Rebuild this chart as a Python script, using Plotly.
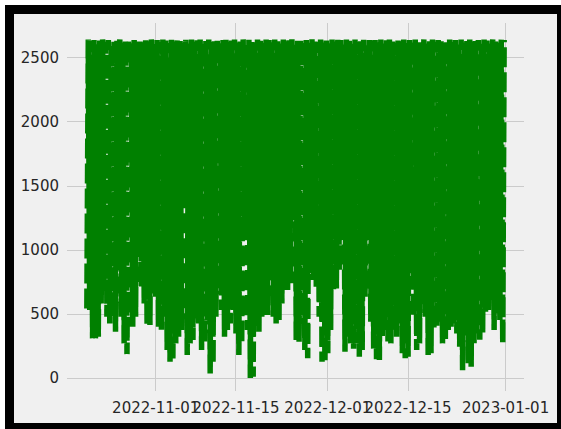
import pandas as pd
import plotly.graph_objects as go

# ---- data ----
start_time = "2022-10-20 00:00"
step = "6h"

low_values = [
    544, 531, 310, 310, 323, 583, 713, 479, 427, 479,
    362, 844, 479, 271, 187, 401, 401, 479, 948, 713,
    583, 414, 414, 661, 635, 401, 375, 479, 219, 128,
    141, 271, 323, 375, 1417, 180, 271, 297, 466, 427,
    219, 271, 453, 36, 115, 479, 687, 531, 323, 375,
    427, 531, 349, 180, 271, 1078, 375, 0, 10, 427,
    362, 479, 492, 492, 810, 479, 427, 453, 583, 687,
    687, 740, 1234, 297, 284, 479, 219, 154, 818, 766,
    713, 479, 128, 128, 193, 375, 687, 700, 844, 1078,
    206, 323, 271, 219, 271, 167, 219, 635, 1078, 440,
    230, 141, 141, 323, 375, 271, 271, 375, 323, 427,
    193, 154, 167, 818, 479, 219, 271, 661, 479, 180,
    193, 375, 401, 440, 271, 297, 375, 401, 427, 349,
    245, 62, 375, 115, 88, 271, 349, 300, 349, 518,
    531, 609, 375, 505, 453, 271,
]

high_values = [
    2645, 2632, 2641, 2618, 2637, 2645, 2626, 2640, 2611, 2643,
    2635, 2645, 2620, 2631, 2644, 2614, 2640, 2628, 2645, 2622,
    2638, 2630, 2645, 2609, 2641, 2625, 2645, 2636, 2617, 2643,
    2629, 2645, 2633, 2620, 2642, 2612, 2645, 2627, 2639, 2645,
    2619, 2636, 2645, 2624, 2630, 2644, 2615, 2640, 2645, 2628,
    2637, 2645, 2621, 2633, 2645, 2610, 2642, 2626, 2620, 2645,
    2634, 2618, 2645, 2640, 2623, 2645, 2631, 2612, 2644, 2630,
    2638, 2645, 2616, 2635, 2645, 2627, 2641, 2619, 2645, 2633,
    2624, 2645, 2620, 2637, 2614, 2645, 2629, 2642, 2640, 2621,
    2645, 2634, 2611, 2645, 2626, 2630, 2643, 2618, 2645, 2636,
    2640, 2623, 2645, 2613, 2638, 2645, 2628, 2620, 2644, 2631,
    2645, 2617, 2640, 2635, 2645, 2622, 2639, 2645, 2612, 2630,
    2645, 2627, 2641, 2645, 2619, 2636, 2645, 2624, 2640, 2615,
    2645, 2620, 2633, 2645, 2628, 2642, 2640, 2611, 2645, 2637,
    2625, 2645, 2630, 2618, 2644, 2640,
]

x_tick_labels = ["2022-11-01", "2022-11-15", "2022-12-01", "2022-12-15", "2023-01-01"]
y_tick_values = [0, 500, 1000, 1500, 2000, 2500]

values = []
for lo, hi in zip(low_values, high_values):
    values.extend([lo, hi])
times = pd.date_range(start_time, periods=len(values), freq=step)

# ---- figure ----
W, H = 561, 429
ML, MR, MT, MB = 67, 37, 23, 38
PW, PH = W - ML - MR, H - MT - MB


def px_x(p):
    return (p - ML) / PW


def px_y(p):
    return (H - MB - p) / PH


fig = go.Figure()
fig.add_trace(go.Scatter(
    x=times, y=values, mode="lines",
    line=dict(color="#008000", width=5.5, dash="20px,5px", simplify=False),
    hoverinfo="skip", showlegend=False,
))

fig.add_shape(
    type="rect", xref="paper", yref="paper", layer="below",
    x0=px_x(9.5), x1=px_x(561.5), y0=px_y(427.5), y1=px_y(9.5),
    line=dict(color="black", width=9), fillcolor="#f0f0f0",
)

font = dict(family="DejaVu Sans", size=15, color="#262626")
fig.update_layout(
    width=W, height=H,
    margin=dict(l=ML, r=MR, t=MT, b=MB, pad=0, autoexpand=False),
    paper_bgcolor="white", plot_bgcolor="#f0f0f0",
    font=font, showlegend=False,
    xaxis=dict(
        range=["2022-10-16 13:00", "2023-01-04 05:00"],
        tickmode="array", tickvals=x_tick_labels, ticktext=x_tick_labels,
        tickangle=0, automargin=False,
        showgrid=True, gridcolor="#cbcbcb", gridwidth=1,
        zeroline=False, showline=False, ticks="",
        tickfont=font, ticklabelstandoff=6,
    ),
    yaxis=dict(
        range=[-101, 2773], automargin=False,
        tickmode="array", tickvals=y_tick_values,
        showgrid=True, gridcolor="#cbcbcb", gridwidth=1,
        zeroline=False, showline=False, ticks="",
        tickfont=font, ticklabelstandoff=7,
    ),
)

fig.write_html(
    "out.html",
    config={"displayModeBar": False},
    post_script="document.body.style.margin='0';document.body.style.overflow='hidden';",
)
